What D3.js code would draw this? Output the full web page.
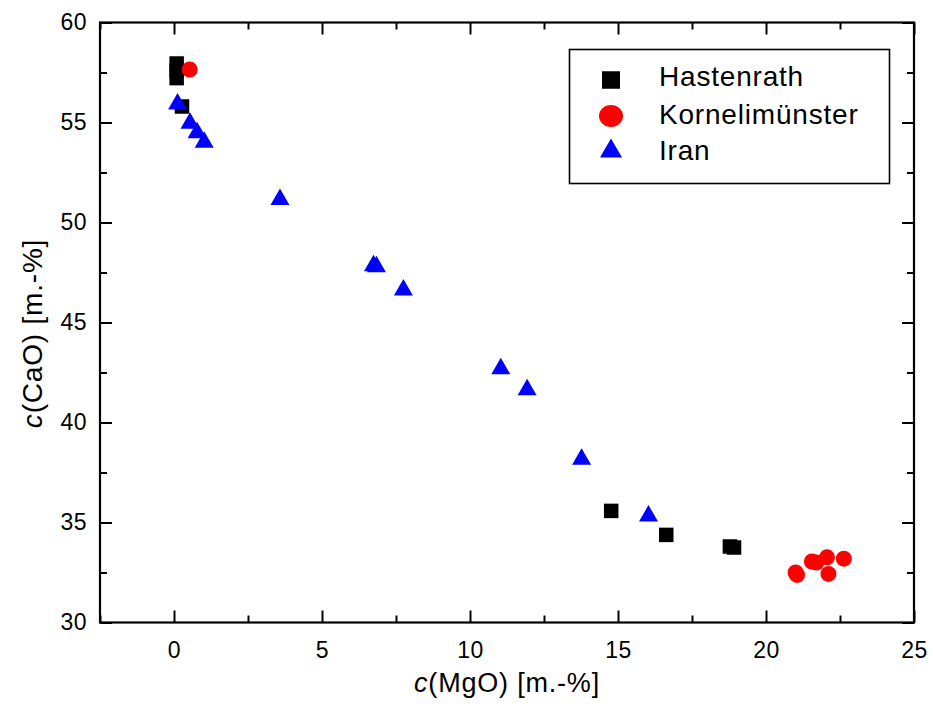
<!DOCTYPE html>
<html>
<head>
<meta charset="utf-8">
<script src="https://cdn.jsdelivr.net/npm/d3@7"></script>
<style>
  html, body { margin: 0; padding: 0; background: #fff; }
  svg { display: block; font-family: "Liberation Sans", Arial, Helvetica, sans-serif; }
  .tick text { font-size: 23px; fill: #000; letter-spacing: 0.5px; }
</style>
</head>
<body>
<svg id="chart" width="933" height="711"></svg>
<script>
// values (MgO vs CaO, mass-%)
const hastenrathMgO = [0.09, 0.09, 0.09, 0.27, 14.77, 16.63, 18.78, 18.92];
const hastenrathCaO = [57.95, 57.6, 57.22, 55.8, 35.58, 34.38, 33.8, 33.75];

const korneliMgO = [0.53, 21.0, 21.05, 21.55, 21.7, 22.06, 22.11, 22.63];
const korneliCaO = [57.65, 32.5, 32.38, 33.05, 33.0, 33.26, 32.43, 33.19];

const iranMgO = [0.12, 0.54, 0.78, 1.02, 3.58, 6.74, 6.84, 7.75, 11.04, 11.93, 13.77, 16.03];
const iranCaO = [56.06, 55.1, 54.63, 54.15, 51.29, 47.97, 47.93, 46.76, 42.83, 41.77, 38.3, 35.46];

const seriesNames = ["Hastenrath", "Kornelimünster", "Iran"];
const seriesColors = ["#000000", "#ff0000", "#0000ff"];
const seriesShapes = ["square", "circle", "triangle"];

const xMajor = [0, 5, 10, 15, 20, 25];
const xMinor = [-2.5, 2.5, 7.5, 12.5, 17.5, 22.5];
const yMajor = [30, 35, 40, 45, 50, 55, 60];
const yMinor = [32.5, 37.5, 42.5, 47.5, 52.5, 57.5];

const L = 100, R = 914, T = 22.5, B = 622.5;

const svg = d3.select("#chart");
const x = d3.scaleLinear().domain([-2.5, 25]).range([L, R]);
const y = d3.scaleLinear().domain([30, 60]).range([B, T]);

// --- axes: ticks point inward on all four sides
function styleAxis(g) {
  g.select(".domain").remove();
  g.selectAll(".tick line").attr("stroke", "#000").attr("stroke-width", 2);
}

svg.append("g").attr("transform", `translate(0,${B})`)
  .call(d3.axisBottom(x).tickValues(xMajor).tickSize(-12).tickPadding(19).tickFormat(d3.format("d")))
  .call(styleAxis);
svg.append("g").attr("transform", `translate(0,${B})`)
  .call(d3.axisBottom(x).tickValues(xMinor).tickSize(-7).tickFormat(""))
  .call(styleAxis);
svg.append("g").attr("transform", `translate(0,${T})`)
  .call(d3.axisTop(x).tickValues(xMajor).tickSize(-12).tickFormat(""))
  .call(styleAxis);
svg.append("g").attr("transform", `translate(0,${T})`)
  .call(d3.axisTop(x).tickValues(xMinor).tickSize(-7).tickFormat(""))
  .call(styleAxis);

svg.append("g").attr("transform", `translate(${L},0)`)
  .call(d3.axisLeft(y).tickValues(yMajor).tickSize(-12).tickPadding(13).tickFormat(d3.format("d")))
  .call(styleAxis);
svg.append("g").attr("transform", `translate(${L},0)`)
  .call(d3.axisLeft(y).tickValues(yMinor).tickSize(-7).tickFormat(""))
  .call(styleAxis);
svg.append("g").attr("transform", `translate(${R},0)`)
  .call(d3.axisRight(y).tickValues(yMajor).tickSize(-12).tickFormat(""))
  .call(styleAxis);
svg.append("g").attr("transform", `translate(${R},0)`)
  .call(d3.axisRight(y).tickValues(yMinor).tickSize(-7).tickFormat(""))
  .call(styleAxis);

// frame
svg.append("rect")
  .attr("x", L).attr("y", T).attr("width", R - L).attr("height", B - T)
  .attr("fill", "none").attr("stroke", "#000").attr("stroke-width", 2.2);

// --- markers (bbox-centred shapes)
function marker(sel, shape, size) {
  if (shape === "square") {
    return sel.append("rect")
      .attr("x", -size.w / 2).attr("y", -size.h / 2)
      .attr("width", size.w).attr("height", size.h);
  }
  if (shape === "circle") {
    return sel.append("ellipse").attr("rx", size.w / 2).attr("ry", size.h / 2);
  }
  const w = size.w, h = size.h;
  return sel.append("path").attr("d", `M0,${-h / 2}L${w / 2},${h / 2}L${-w / 2},${h / 2}Z`);
}

const plotSizes = [{ w: 14.5, h: 14.5 }, { w: 16, h: 16 }, { w: 19, h: 16.5 }];
const legendSizes = [{ w: 18, h: 17.5 }, { w: 24, h: 22 }, { w: 22, h: 19 }];

const seriesData = [
  d3.zip(hastenrathMgO, hastenrathCaO),
  d3.zip(korneliMgO, korneliCaO),
  d3.zip(iranMgO, iranCaO),
];

seriesData.forEach((pts, i) => {
  const g = svg.append("g").attr("fill", seriesColors[i]);
  pts.forEach(([mx, cy]) => {
    const m = g.append("g").attr("transform", `translate(${x(mx)},${y(cy)})`);
    marker(m, seriesShapes[i], plotSizes[i]);
  });
});

// --- legend
const lg = svg.append("g");
lg.append("rect")
  .attr("x", 569.5).attr("y", 49.5).attr("width", 320).attr("height", 134)
  .attr("fill", "#fff").attr("stroke", "#000").attr("stroke-width", 1.6);
const legendRows = [80, 116, 148];
const legendBase = [86, 124, 160];
seriesNames.forEach((name, i) => {
  const m = lg.append("g").attr("transform", `translate(611,${legendRows[i]})`).attr("fill", seriesColors[i]);
  marker(m, seriesShapes[i], legendSizes[i]);
  lg.append("text")
    .attr("x", 659).attr("y", legendBase[i])
    .attr("font-size", 28).attr("letter-spacing", 0.8).attr("fill", "#000")
    .text(name);
});

// --- axis titles
const xt = svg.append("text")
  .attr("x", 507).attr("y", 692)
  .attr("text-anchor", "middle").attr("font-size", 27).attr("letter-spacing", 0.8).attr("fill", "#000");
xt.append("tspan").attr("font-style", "italic").text("c");
xt.append("tspan").text("(MgO) [m.-%]");

const yt = svg.append("text")
  .attr("transform", `translate(42,${(T + B) / 2 + 11}) rotate(-90)`)
  .attr("text-anchor", "middle").attr("font-size", 28).attr("letter-spacing", 0.8).attr("fill", "#000");
yt.append("tspan").attr("font-style", "italic").text("c");
yt.append("tspan").text("(CaO) [m.-%]");
</script>
</body>
</html>
